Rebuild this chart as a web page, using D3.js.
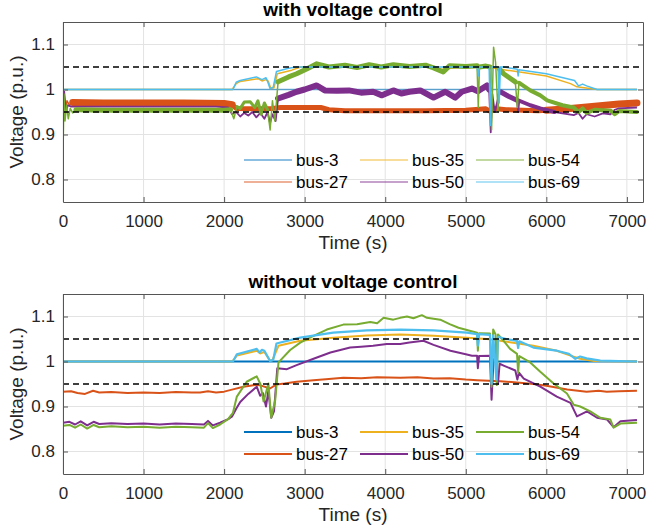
<!DOCTYPE html>
<html lang="en">
<head>
<meta charset="utf-8">
<title>Bus voltages</title>
<script src="https://cdn.jsdelivr.net/npm/d3@7"></script>
<style>
  body { margin: 0; background: #fff; }
  text { font-family: Helvetica, Arial, "Liberation Sans", sans-serif; fill: #262626; }
  .axis path { stroke: #555; }
  .axis line { stroke: #555; }
  .axis text { font-size: 17px; fill: #262626; }
  .grid line { stroke: #e3e3e3; }
</style>
</head>
<body>
<script>
// ---- data: [time (s), voltage (p.u.)] ----
var busNames = ["bus-3", "bus-27", "bus-35", "bus-50", "bus-54", "bus-69"];
var xTicks = [0, 1000, 2000, 3000, 4000, 5000, 6000, 7000];
var yTicks = [0.8, 0.9, 1, 1.1];
var limits = [0.95, 1.05];

// with voltage control
var topBus3 = [[0,1.0],[7125,1.0]];
var topBus27 = [[0,0.94],[15,0.99],[30,0.955],[50,0.975],[80,0.965],[120,0.971],[500,0.970],[1000,0.970],[1500,0.970],[2000,0.969],[2100,0.966],[2150,0.958],[2400,0.957],[2600,0.958],[2700,0.960],[3200,0.960],[3300,0.955],[3500,0.953],[4000,0.953],[4500,0.953],[5000,0.954],[5250,0.957],[5300,0.952],[5350,0.958],[5500,0.955],[5900,0.953],[6000,0.954],[6300,0.958],[6600,0.963],[6900,0.968],[7125,0.970]];
var topBus35 = [[0,1.0],[2100,1.0],[2150,1.013],[2200,1.018],[2425,1.024],[2470,1.019],[2520,1.022],[2550,1.018],[2580,1.002],[2620,1.004],[2660,1.035],[2840,1.043],[2950,1.050],[4500,1.050],[4700,1.045],[4900,1.049],[5300,1.049],[5470,1.044],[6000,1.030],[6300,1.013],[6380,1.006],[6630,1.0],[7125,1.0]];
var topBus50 = [[0,0.93],[15,0.995],[35,0.95],[60,0.965],[100,0.962],[1000,0.962],[1900,0.962],[2050,0.960],[2100,0.945],[2150,0.950],[2200,0.940],[2250,0.948],[2300,0.942],[2350,0.950],[2400,0.938],[2450,0.948],[2500,0.935],[2540,0.950],[2570,0.925],[2600,0.945],[2640,0.930],[2670,0.980],[2800,0.988],[2900,0.995],[3000,1.000],[3150,1.009],[3250,0.998],[3400,0.997],[3550,0.998],[3700,0.993],[3850,0.995],[3960,0.987],[4100,0.998],[4200,0.991],[4300,0.995],[4435,0.998],[4600,0.982],[4745,0.995],[4870,0.982],[4950,0.995],[5077,1.002],[5150,0.996],[5263,1.009],[5290,1.0],[5310,0.905],[5330,0.99],[5360,0.95],[5400,0.98],[5430,0.995],[5530,0.985],[5636,0.976],[5650,0.95],[5665,0.975],[5800,0.965],[5925,0.958],[6100,0.950],[6340,0.943],[6400,0.948],[6450,0.935],[6500,0.945],[6600,0.940],[6700,0.947],[6795,0.945],[6850,0.955],[6900,0.958],[7125,0.960]];
var topBus54 = [[0,0.85],[12,0.99],[25,0.93],[45,0.965],[65,0.935],[90,0.958],[120,0.948],[160,0.955],[500,0.954],[1000,0.954],[1500,0.954],[2000,0.954],[2080,0.955],[2120,0.935],[2160,0.962],[2200,0.958],[2250,0.972],[2323,0.973],[2380,0.960],[2420,0.975],[2460,0.945],[2500,0.970],[2540,0.955],[2571,0.910],[2600,0.975],[2630,0.93],[2670,1.017],[2800,1.028],[2900,1.035],[3050,1.048],[3150,1.057],[3300,1.050],[3500,1.054],[3650,1.049],[3800,1.055],[3950,1.050],[4100,1.055],[4300,1.051],[4500,1.054],[4600,1.048],[4720,1.039],[4800,1.053],[5000,1.051],[5140,1.053],[5155,0.960],[5170,1.05],[5250,1.052],[5300,1.05],[5320,0.91],[5345,1.094],[5370,1.06],[5400,0.95],[5420,1.045],[5470,1.035],[5550,1.025],[5615,1.017],[5640,0.96],[5660,1.015],[5800,0.998],[5925,0.987],[6010,0.976],[6200,0.965],[6340,0.960],[6400,0.950],[6450,0.958],[6500,0.948],[6600,0.955],[6800,0.953],[6850,0.945],[6900,0.952],[7125,0.950]];
var topBus69 = [[0,1.0],[2110,1.0],[2150,1.016],[2200,1.020],[2400,1.028],[2470,1.022],[2520,1.026],[2540,1.018],[2570,1.002],[2610,1.005],[2650,1.040],[2800,1.047],[2900,1.050],[5140,1.050],[5155,1.030],[5170,1.050],[5290,1.050],[5305,0.92],[5320,1.05],[5400,1.05],[5415,0.97],[5430,1.05],[5470,1.050],[5640,1.045],[5650,1.030],[5660,1.044],[6000,1.035],[6350,1.020],[6400,1.008],[6450,1.012],[6500,1.008],[6630,1.0],[7125,1.0]];

// without voltage control
var botBus3 = [[0,1.0],[7125,1.0]];
var botBus27 = [[0,0.933],[100,0.934],[180,0.930],[273,0.928],[373,0.935],[450,0.931],[600,0.932],[800,0.930],[1000,0.931],[1200,0.930],[1400,0.932],[1600,0.931],[1702,0.931],[1800,0.934],[1900,0.931],[2000,0.933],[2110,0.938],[2240,0.944],[2385,0.948],[2450,0.947],[2570,0.940],[2650,0.949],[2750,0.951],[2900,0.955],[3110,0.9585],[3300,0.961],[3480,0.964],[3700,0.963],[3900,0.965],[4186,0.964],[4400,0.965],[4600,0.962],[4800,0.963],[5000,0.960],[5140,0.9585],[5430,0.956],[5600,0.954],[5840,0.950],[6000,0.946],[6260,0.938],[6500,0.933],[6650,0.935],[6750,0.933],[6900,0.934],[7125,0.935]];
var botBus35 = [[0,1.0],[2100,1.0],[2158,1.013],[2405,1.024],[2450,1.018],[2500,1.021],[2570,1.002],[2600,1.003],[2675,1.035],[2945,1.046],[3355,1.053],[3770,1.058],[4186,1.060],[4600,1.057],[5015,1.053],[5300,1.0495],[5840,1.035],[6130,1.024],[6300,1.013],[6420,1.006],[6590,1.001],[7125,1.0]];
var botBus50 = [[0,0.864],[80,0.866],[150,0.860],[220,0.867],[300,0.858],[380,0.866],[450,0.861],[600,0.863],[800,0.861],[1000,0.862],[1200,0.860],[1400,0.862],[1600,0.861],[1750,0.860],[1800,0.868],[1860,0.858],[1950,0.864],[2050,0.872],[2100,0.878],[2150,0.895],[2200,0.91],[2300,0.928],[2405,0.944],[2447,0.924],[2480,0.93],[2520,0.90],[2550,0.935],[2585,0.875],[2620,0.89],[2660,0.985],[2780,0.983],[2900,0.992],[3110,1.006],[3320,1.020],[3565,1.031],[3700,1.033],[3850,1.035],[4020,1.039],[4186,1.039],[4300,1.042],[4475,1.046],[4600,1.037],[4810,1.024],[5000,1.016],[5077,1.013],[5140,1.013],[5150,0.985],[5165,1.012],[5300,1.013],[5320,0.915],[5345,1.005],[5380,0.998],[5400,0.95],[5420,0.995],[5470,0.991],[5615,0.980],[5640,0.96],[5660,0.975],[5720,0.962],[5925,0.944],[6130,0.922],[6300,0.908],[6380,0.878],[6505,0.889],[6630,0.875],[6755,0.871],[6835,0.854],[6920,0.867],[7125,0.870]];
var botBus54 = [[0,0.857],[80,0.859],[150,0.853],[220,0.860],[300,0.851],[380,0.859],[450,0.854],[600,0.856],[800,0.854],[1000,0.855],[1200,0.853],[1400,0.855],[1600,0.854],[1750,0.853],[1800,0.863],[1860,0.852],[1950,0.86],[2050,0.872],[2075,0.878],[2110,0.886],[2158,0.922],[2280,0.955],[2405,0.967],[2450,0.950],[2490,0.911],[2550,0.951],[2585,0.875],[2635,0.915],[2675,0.998],[2820,1.0255],[2945,1.042],[3110,1.057],[3275,1.071],[3480,1.082],[3650,1.083],[3814,1.088],[3900,1.085],[3980,1.097],[4100,1.093],[4186,1.097],[4270,1.100],[4350,1.096],[4455,1.103],[4518,1.097],[4683,1.093],[4800,1.083],[4910,1.075],[5140,1.064],[5150,1.024],[5165,1.063],[5300,1.062],[5320,0.944],[5340,1.071],[5370,1.06],[5385,0.948],[5400,1.06],[5470,1.046],[5550,1.028],[5636,1.017],[5650,0.975],[5665,1.012],[5800,0.998],[5925,0.977],[6090,0.951],[6256,0.929],[6340,0.904],[6420,0.900],[6546,0.889],[6670,0.875],[6795,0.871],[6835,0.853],[6920,0.862],[7125,0.864]];
var botBus69 = [[0,1.0],[2110,1.0],[2158,1.016],[2405,1.028],[2440,1.020],[2470,1.026],[2500,1.024],[2570,1.001],[2610,1.004],[2650,1.040],[2945,1.053],[3355,1.064],[3770,1.069],[4186,1.071],[4600,1.069],[5015,1.064],[5140,1.061],[5150,1.035],[5165,1.061],[5300,1.059],[5320,0.95],[5340,1.058],[5380,0.96],[5400,1.055],[5500,1.05],[5636,1.046],[5650,1.030],[5665,1.045],[5840,1.031],[6130,1.024],[6280,1.017],[6360,1.006],[6420,1.011],[6500,1.007],[6670,1.002],[7125,1.0]];

// ---- styles ----
var colors = ["#0072BD", "#D95319", "#EDB120", "#7E2F8E", "#77AC30", "#4DBEEE"];

// fast oscillation in the "with control" case shows as thick bands:
// [from t, to t, stroke width] drawn over the thin line
var topBands = [
    [],
    [[120, 2100, 7], [2100, 6000, 5], [6000, 7125, 7]],
    [],
    [[2670, 5290, 6], [5430, 5636, 5], [5665, 6100, 4]],
    [[160, 2080, 5], [2160, 2540, 3], [2670, 5140, 5], [5170, 5300, 5], [5420, 5615, 5], [5660, 7125, 4]],
    []
];

var W = 647, H = 529;
var left = 63, right = 643, plotH = 180;

var svg = d3.select("body").append("svg")
    .attr("width", W)
    .attr("height", H);

var x = d3.scaleLinear().domain([0, 7200]).range([left, right]);

function drawPanel(top, title, series, widths, opac, bands, legendOpac) {
    var y = d3.scaleLinear().domain([0.75, 1.15]).range([top + plotH, top]);
    var g = svg.append("g");

    // grid
    var grid = g.append("g").attr("class", "grid");
    grid.selectAll(".gx").data(xTicks).enter().append("line")
        .attr("x1", function(d) { return x(d); })
        .attr("x2", function(d) { return x(d); })
        .attr("y1", top).attr("y2", top + plotH);
    grid.selectAll(".gy").data(yTicks).enter().append("line")
        .attr("x1", left).attr("x2", right)
        .attr("y1", function(d) { return y(d); })
        .attr("y2", function(d) { return y(d); });

    // clip
    var clipId = "clip" + top;
    g.append("clipPath").attr("id", clipId).append("rect")
        .attr("x", left).attr("y", top).attr("width", right - left).attr("height", plotH);

    var line = d3.line()
        .x(function(d) { return x(d[0]); })
        .y(function(d) { return y(d[1]); });

    var lines = g.append("g").attr("clip-path", "url(#" + clipId + ")");
    series.forEach(function(s, i) {
        lines.append("path")
            .datum(s)
            .attr("d", line)
            .attr("fill", "none")
            .attr("stroke", colors[i])
            .attr("stroke-width", widths[i])
            .attr("stroke-opacity", opac[i])
            .attr("stroke-linejoin", "round");
        (bands ? bands[i] : []).forEach(function(b) {
            var part = s.filter(function(d) { return d[0] >= b[0] && d[0] <= b[1]; });
            lines.append("path")
                .datum(part)
                .attr("d", line)
                .attr("fill", "none")
                .attr("stroke", colors[i])
                .attr("stroke-width", b[2])
                .attr("stroke-linejoin", "round")
                .attr("stroke-linecap", "round");
        });
    });

    // limit lines
    lines.selectAll(".lim").data(limits).enter().append("line")
        .attr("x1", left).attr("x2", right)
        .attr("y1", function(d) { return y(d); })
        .attr("y2", function(d) { return y(d); })
        .attr("stroke", "#000")
        .attr("stroke-width", 1.6)
        .attr("stroke-dasharray", "6,4");

    // axes (ticks inward, box)
    var fmt = d3.format("");
    g.append("g").attr("class", "axis")
        .attr("transform", "translate(0," + (top + plotH) + ")")
        .call(d3.axisBottom(x).tickValues(xTicks).tickSize(-5).tickPadding(13).tickSizeOuter(0).tickFormat(d3.format("d")));
    g.append("g").attr("class", "axis")
        .attr("transform", "translate(0," + top + ")")
        .call(d3.axisTop(x).tickValues(xTicks).tickSize(-5).tickSizeOuter(0).tickFormat(""));
    g.append("g").attr("class", "axis")
        .attr("transform", "translate(" + left + ",0)")
        .call(d3.axisLeft(y).tickValues(yTicks).tickSize(-5).tickPadding(8).tickSizeOuter(0).tickFormat(fmt));
    g.append("g").attr("class", "axis")
        .attr("transform", "translate(" + right + ",0)")
        .call(d3.axisRight(y).tickValues(yTicks).tickSize(-5).tickSizeOuter(0).tickFormat(""));

    // title and labels
    g.append("text")
        .attr("x", (left + right) / 2).attr("y", top - 6)
        .attr("text-anchor", "middle")
        .style("font-size", "19px").style("font-weight", "bold").style("fill", "#000")
        .text(title);
    g.append("text")
        .attr("x", (left + right) / 2).attr("y", top + plotH + 47)
        .attr("text-anchor", "middle")
        .style("font-size", "19px")
        .text("Time (s)");
    g.append("text")
        .attr("transform", "translate(23," + (top + plotH / 2) + ") rotate(-90)")
        .attr("text-anchor", "middle")
        .style("font-size", "19px")
        .text("Voltage (p.u.)");

    // legend, 3 columns x 2 rows, column-major
    var colX = [244, 360, 476];
    var rowY = [top + 138, top + 160];
    var leg = g.append("g");
    busNames.forEach(function(name, i) {
        var cx = colX[Math.floor(i / 2)], cy = rowY[i % 2];
        leg.append("line")
            .attr("x1", cx).attr("x2", cx + 48)
            .attr("y1", cy).attr("y2", cy)
            .attr("stroke", colors[i])
            .attr("stroke-width", 2)
            .attr("stroke-opacity", legendOpac);
        leg.append("text")
            .attr("x", cx + 52).attr("y", cy)
            .attr("dy", "0.36em")
            .style("font-size", "17px")
            .style("fill", "#000")
            .text(name);
    });
}

drawPanel(22, "with voltage control",
    [topBus3, topBus27, topBus35, topBus50, topBus54, topBus69],
    [1.5, 1.5, 1.5, 1.8, 1.5, 1.5],
    [0.6, 1, 1, 1, 1, 1],
    topBands,
    0.45);

drawPanel(294, "without voltage control",
    [botBus3, botBus27, botBus35, botBus50, botBus54, botBus69],
    [2, 2, 2, 2, 2, 2.2],
    [1, 1, 1, 1, 1, 1],
    null,
    1);
</script>
</body>
</html>
